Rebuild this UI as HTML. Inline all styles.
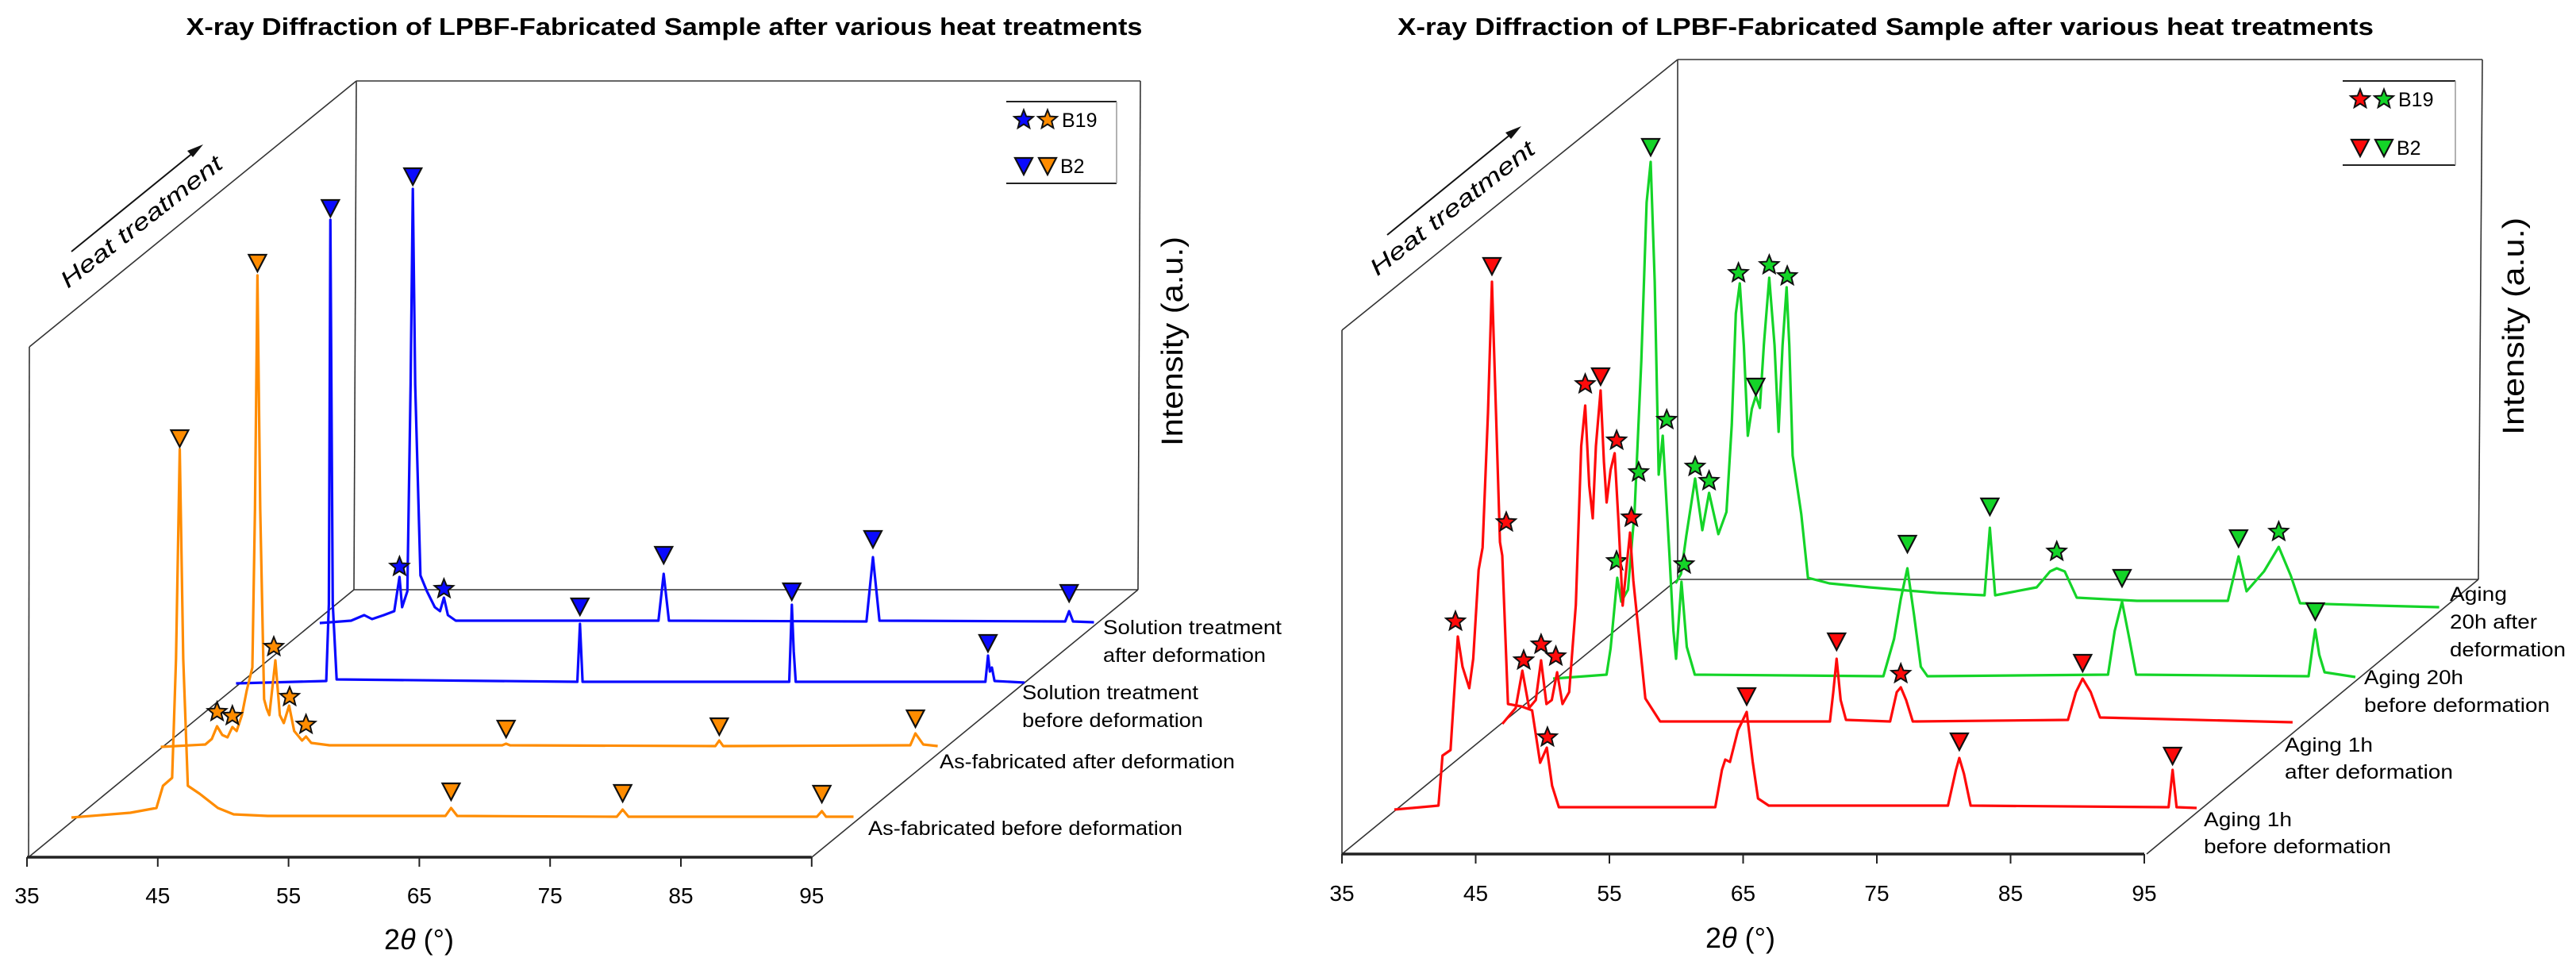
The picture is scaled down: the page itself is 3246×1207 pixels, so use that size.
<!DOCTYPE html>
<html><head><meta charset="utf-8"><title>XRD 3D plots</title>
<style>
html,body{margin:0;padding:0;background:#fff;}
svg{display:block;}
text{font-family:"Liberation Sans",sans-serif;fill:#000;}
</style></head>
<body>
<svg id="chart" xmlns="http://www.w3.org/2000/svg" width="3246" height="1207" viewBox="0 0 3246 1207">
<rect x="0" y="0" width="3246" height="1207" fill="#fff"/>
<g id="frames" fill="none" stroke="#333" stroke-width="1.6">
  <!-- left panel frame -->
  <line x1="37" y1="437" x2="36" y2="1080"/>
  <line x1="37" y1="437" x2="449" y2="102"/>
  <line x1="449" y1="102" x2="1437" y2="102"/>
  <line x1="1437" y1="102" x2="1434" y2="743"/>
  <line x1="449" y1="102" x2="446" y2="743"/>
  <line x1="446" y1="743" x2="1434" y2="743"/>
  <line x1="36" y1="1080" x2="446" y2="743"/>
  <line x1="1023" y1="1080" x2="1434" y2="743"/>
  <!-- right panel frame -->
  <line x1="1691" y1="416" x2="1691" y2="1076"/>
  <line x1="1691" y1="416" x2="2114" y2="75"/>
  <line x1="2114" y1="75" x2="3128" y2="75"/>
  <line x1="3128" y1="75" x2="3123" y2="730"/>
  <line x1="2114" y1="75" x2="2114" y2="730"/>
  <line x1="2114" y1="730" x2="3123" y2="730"/>
  <line x1="1691" y1="1076" x2="2114" y2="730"/>
  <line x1="2705" y1="1076" x2="3123" y2="730"/>
</g>
<g id="plots"></g>
<g id="annot">
  <text x="837" y="44" font-size="31" font-weight="bold" text-anchor="middle" textLength="1205" lengthAdjust="spacingAndGlyphs">X-ray Diffraction of LPBF-Fabricated Sample after various heat treatments</text>
  <text x="2376" y="44" font-size="31" font-weight="bold" text-anchor="middle" textLength="1230" lengthAdjust="spacingAndGlyphs">X-ray Diffraction of LPBF-Fabricated Sample after various heat treatments</text>

  <text x="0" y="0" font-size="38" text-anchor="middle" textLength="264" lengthAdjust="spacingAndGlyphs" transform="translate(1490,430) rotate(-90)">Intensity (a.u.)</text>
  <text x="0" y="0" font-size="38" text-anchor="middle" textLength="274" lengthAdjust="spacingAndGlyphs" transform="translate(3180,411) rotate(-90)">Intensity (a.u.)</text>

  <g>
    <text x="0" y="0" font-size="29" font-style="italic" text-anchor="middle" textLength="250" lengthAdjust="spacingAndGlyphs" transform="translate(184,287) rotate(-38)">Heat treatment</text>
    <line x1="90" y1="317" x2="250" y2="187" stroke="#111" stroke-width="2"/>
    <polygon points="256,182 236,190 243,198" fill="#111"/>
  </g>
  <g>
    <text x="0" y="0" font-size="29" font-style="italic" text-anchor="middle" textLength="255" lengthAdjust="spacingAndGlyphs" transform="translate(1836,270) rotate(-38)">Heat treatment</text>
    <line x1="1748" y1="296" x2="1910" y2="164" stroke="#111" stroke-width="2"/>
    <polygon points="1917,159 1897,167 1904,175" fill="#111"/>
  </g>

  <g font-size="36"><text x="528" y="1196" text-anchor="middle">2<tspan font-style="italic">θ</tspan> (°)</text></g>
  <g font-size="36"><text x="2193" y="1194" text-anchor="middle">2<tspan font-style="italic">θ</tspan> (°)</text></g>

  <g font-size="25">
    <text x="1390" y="799" textLength="225" lengthAdjust="spacingAndGlyphs">Solution treatment</text>
    <text x="1390" y="834" textLength="205" lengthAdjust="spacingAndGlyphs">after deformation</text>
    <text x="1288" y="881" textLength="222" lengthAdjust="spacingAndGlyphs">Solution treatment</text>
    <text x="1288" y="916" textLength="228" lengthAdjust="spacingAndGlyphs">before deformation</text>
    <text x="1184" y="968" textLength="372" lengthAdjust="spacingAndGlyphs">As-fabricated after deformation</text>
    <text x="1094" y="1052" textLength="396" lengthAdjust="spacingAndGlyphs">As-fabricated before deformation</text>
  </g>
  <g font-size="25">
    <text x="3087" y="757" textLength="72" lengthAdjust="spacingAndGlyphs">Aging</text>
    <text x="3087" y="792" textLength="110" lengthAdjust="spacingAndGlyphs">20h after</text>
    <text x="3087" y="827" textLength="146" lengthAdjust="spacingAndGlyphs">deformation</text>
    <text x="2979" y="862" textLength="125" lengthAdjust="spacingAndGlyphs">Aging 20h</text>
    <text x="2979" y="897" textLength="234" lengthAdjust="spacingAndGlyphs">before deformation</text>
    <text x="2879" y="947" textLength="111" lengthAdjust="spacingAndGlyphs">Aging 1h</text>
    <text x="2879" y="981" textLength="212" lengthAdjust="spacingAndGlyphs">after deformation</text>
    <text x="2777" y="1041" textLength="111" lengthAdjust="spacingAndGlyphs">Aging 1h</text>
    <text x="2777" y="1075" textLength="236" lengthAdjust="spacingAndGlyphs">before deformation</text>
  </g>
</g>
<g id="axes"></g>
<g id="legends"></g>
</svg>
<script>
// ---------- tick data ----------
const tickValues = [35, 45, 55, 65, 75, 85, 95];
const tickLabels = ["35", "45", "55", "65", "75", "85", "95"];

// ---------- LEFT PANEL DATA (2θ in degrees, intensity in a.u. of pixels) ----------
const asFabBeforeDeg = [35,39.5,41.5,42.0,42.7,43.0,43.28,43.55,43.9,44.8,46.2,47.4,50,63.6,64.03,64.5,76.7,77.15,77.6,92.0,92.38,92.7,94.8];
const asFabBeforeInt = [0,6,12,40,50,200,464,200,40,30,12,4,2,2,12,2,1,10,1,1,8,1,1];
const asFabBeforeMkDeg = [43.28,64.03,77.15,92.38];
const asFabBeforeMkInt = [478,33,31,30];
const asFabBeforeMkType = ["tri","tri","tri","tri"];

const asFabAfterDeg = [35.1,38.5,39.0,39.4,39.8,40.2,40.57,40.9,41.3,41.67,42.1,42.3,42.49,42.7,43.0,43.2,43.4,43.86,44.2,44.5,44.91,45.3,45.9,46.2,46.6,48,61.2,61.5,61.8,77.5,77.8,78.1,92.4,92.8,93.4,94.5];
const asFabAfterInt = [0,3,10,26,15,12,25,20,40,71,100,300,594,300,60,48,40,109,40,30,52,20,8,13,5,2,2,4,2,1,8,1,2,17,3,1];
const asFabAfterMkDeg = [42.49,43.74,44.95,39.4,40.57,46.2,61.5,77.8,92.8];
const asFabAfterMkInt = [610,126,63,44,39,28,23,26,36];
const asFabAfterMkType = ["tri","star","star","star","star","star","tri","tri","tri"];

const solBeforeDeg = [34.9,41.8,42.0,42.12,42.3,42.6,61.0,61.2,61.4,77.2,77.4,77.55,77.7,92.2,92.4,92.55,92.7,92.9,95.2];
const solBeforeInt = [0,3,100,584,100,5,2,75,2,2,99,40,2,2,35,15,20,3,1];
const solBeforeMkDeg = [42.12,61.2,77.4,92.4];
const solBeforeMkInt = [599,97,116,51];
const solBeforeMkType = ["tri","tri","tri","tri"];

const solAfterDeg = [35.6,38,39,39.6,40.5,41.3,41.7,41.9,42.3,42.55,42.72,42.9,43.3,43.8,44.4,44.8,45.1,45.4,46,61.5,61.9,62.3,77.4,77.9,78.4,92.6,92.9,93.2,94.8];
const solAfterInt = [0,3,10,5,10,15,58,20,40,300,547,300,60,40,20,15,32,10,3,3,62,3,2,83,3,2,15,2,1];
const solAfterMkDeg = [42.72,41.7,45.1,61.9,77.9,92.9];
const solAfterMkInt = [563,71,43,86,106,38];
const solAfterMkType = ["tri","star","star","tri","tri","tri"];

// ---------- RIGHT PANEL DATA ----------
const aging1BeforeDeg = [35,38.3,38.6,39.2,39.75,40.1,40.6,40.9,41.3,41.6,42.0,42.3,42.6,42.9,43.07,43.5,44.5,45.3,45.9,46.4,46.8,47.3,59.0,59.5,59.75,60.1,60.7,61.35,61.8,62.2,63,76.4,77.0,77.25,77.6,78.1,92.9,93.2,93.5,95];
const aging1BeforeInt = [0,5,68,75,218,180,153,190,302,330,500,665,500,337,320,133,130,125,59,78,30,3,3,50,63,60,100,123,60,14,5,5,50,65,45,5,3,50,3,2];
const aging1BeforeMkDeg = [39.57,42.3,43.37,46.45,61.35,77.25,93.2];
const aging1BeforeMkInt = [237,685,362,91,143,86,68];
const aging1BeforeMkType = ["star","tri","star","star","tri","tri","tri"];

const aging1AfterDeg = [35.3,36.3,36.8,37.3,37.8,38.2,38.6,39.0,39.4,39.8,40.3,40.8,41.2,41.5,41.8,42.06,42.3,42.65,42.9,43.1,43.4,43.7,44.0,44.3,44.6,44.85,45.1,45.5,46.0,47.1,59.8,60.05,60.3,60.6,61,64.3,64.8,65.1,65.5,66,77.6,78.2,78.7,79.3,80,94.4];
const aging1AfterInt = [0,20,67,20,30,80,25,30,65,25,40,150,350,401,300,259,350,420,330,279,320,341,250,149,200,241,180,115,32,3,3,40,82,30,5,3,40,46,30,3,5,40,57,40,8,2];
const aging1AfterMkDeg = [36.9,38.2,39.3,41.5,42.65,43.85,44.95,60.3,65.1,78.7];
const aging1AfterMkInt = [80,100,85,428,438,357,260,104,63,77];
const aging1AfterMkType = ["star","star","star","star","tri","star","star","tri","star","tri"];

const aging20BeforeDeg = [35,39.0,39.3,39.8,40.1,40.6,41.1,41.6,42.0,42.3,42.6,42.9,43.2,43.7,44.0,44.2,44.6,45.0,45.6,59.7,60.5,61.0,61.5,62.0,62.5,63,76.5,77.0,77.55,78.1,78.6,91.5,91.8,92.0,92.3,92.7,95];
const aging20BeforeInt = [0,5,38,127,97,112,212,400,600,651,500,257,306,157,60,25,122,40,5,3,50,100,139,80,15,3,5,60,97,50,5,3,40,62,30,8,2];
const aging20BeforeMkDeg = [39.75,41.4,42.3,43.5,44.8,61.5,77.55,92.0];
const aging20BeforeMkInt = [148,260,670,326,144,170,127,85];
const aging20BeforeMkType = ["star","star","tri","star","star","tri","tri","tri"];

const aging20AfterDeg = [35.5,35.9,36.3,36.96,37.5,38.0,38.7,39.3,39.7,40.0,40.3,40.6,40.9,41.2,41.5,41.8,42.1,42.5,42.9,43.2,43.5,43.8,44.0,44.25,44.9,45.4,47,50,55,58.6,59.0,59.4,62.5,63.5,64.0,64.6,65.5,70,76.8,77.6,78.2,79.5,80.6,81.5,82.2,88,92.6];
const aging20AfterInt = [0,12,60,132,67,114,62,90,200,340,378,300,186,220,236,221,300,385,300,191,300,373,300,161,87,7,0,-5,-12,-15,70,-15,-5,15,19,15,-18,-22,-22,34,-10,15,46,10,-25,-28,-30];
const aging20AfterMkDeg = [36.96,38.0,40.2,41.5,42.5,43.85,59.0,64.0,77.6,80.6];
const aging20AfterMkInt = [147,129,391,248,401,387,97,40,57,65];
const aging20AfterMkType = ["star","star","star","tri","star","star","tri","star","tri","star"];

// ---------- layout (pixels) ----------
const NS = "http://www.w3.org/2000/svg";
const plots = document.getElementById("plots");
const axesG = document.getElementById("axes");
const legG = document.getElementById("legends");

const panels = {
  left: { x0: 34, pxPerDeg: 16.48, axisY: 1080 },
  right: { x0: 1691, pxPerDeg: 16.85, axisY: 1076 }
};
function xScale(panel, deg, dx) { return panel.x0 + dx + (deg - 35) * panel.pxPerDeg; }
function yScale(base, v) { return base - v; }

function mk(tag, attrs) {
  const el = document.createElementNS(NS, tag);
  for (const k in attrs) el.setAttribute(k, attrs[k]);
  return el;
}
function triPts(x, y) { return (x-11)+","+(y-10)+" "+(x+11)+","+(y-10)+" "+x+","+(y+11); }
function starPts(x, y, R, r) {
  const p = [];
  for (let i = 0; i < 10; i++) {
    const a = -Math.PI/2 + i*Math.PI/5;
    const rr = i % 2 === 0 ? R : r;
    p.push((x + rr*Math.cos(a)).toFixed(1) + "," + (y + rr*Math.sin(a)).toFixed(1));
  }
  return p.join(" ");
}
function drawMarker(g, type, x, y, color, name) {
  let el;
  if (type === "tri") el = mk("polygon", { points: triPts(x, y), fill: color, stroke: "#111", "stroke-width": 2.2, "stroke-linejoin": "miter" });
  else el = mk("polygon", { points: starPts(x, y, 12.5, 5.5), fill: color, stroke: "#111", "stroke-width": 2, "stroke-linejoin": "miter" });
  
  
  g.appendChild(el);
}
function drawSeries(panel, dx, base, degs, ints, mDeg, mInt, mType, color, name) {
  const g = mk("g", {});
  
  
  let d = "";
  for (let i = 0; i < degs.length; i++) {
    const x = xScale(panel, degs[i], dx), y = yScale(base, ints[i]);
    d += (i ? "L" : "M") + x.toFixed(1) + "," + y.toFixed(1);
  }
  const path = mk("path", { d: d, fill: "none", stroke: color, "stroke-width": 3.2, "stroke-linejoin": "round" });
  
  
  g.appendChild(path);
  for (let i = 0; i < mDeg.length; i++) {
    drawMarker(g, mType[i], xScale(panel, mDeg[i], dx), yScale(base, mInt[i]), color, name + '-marker-' + mType[i]);
  }
  plots.appendChild(g);
}

const orange = "#ff8c00", blue = "#0a0aff", red = "#ff0a0a", green = "#14d428";
// back to front
drawSeries(panels.left, 359, 785, solAfterDeg, solAfterInt, solAfterMkDeg, solAfterMkInt, solAfterMkType, blue, "series-solution-after");
drawSeries(panels.left, 265, 861, solBeforeDeg, solBeforeInt, solBeforeMkDeg, solBeforeMkInt, solBeforeMkType, blue, "series-solution-before");
drawSeries(panels.left, 167, 941, asFabAfterDeg, asFabAfterInt, asFabAfterMkDeg, asFabAfterMkInt, asFabAfterMkType, orange, "series-asfab-after");
drawSeries(panels.left, 56, 1030, asFabBeforeDeg, asFabBeforeInt, asFabBeforeMkDeg, asFabBeforeMkInt, asFabBeforeMkType, orange, "series-asfab-before");

drawSeries(panels.right, 412, 735, aging20AfterDeg, aging20AfterInt, aging20AfterMkDeg, aging20AfterMkInt, aging20AfterMkType, green, "series-aging20-after");
drawSeries(panels.right, 266, 855, aging20BeforeDeg, aging20BeforeInt, aging20BeforeMkDeg, aging20BeforeMkInt, aging20BeforeMkType, green, "series-aging20-before");
drawSeries(panels.right, 197, 912, aging1AfterDeg, aging1AfterInt, aging1AfterMkDeg, aging1AfterMkInt, aging1AfterMkType, red, "series-aging1-after");
drawSeries(panels.right, 66, 1020, aging1BeforeDeg, aging1BeforeInt, aging1BeforeMkDeg, aging1BeforeMkInt, aging1BeforeMkType, red, "series-aging1-before");

// axes
function drawAxis(panel, side, labelY) {
  const g = mk("g", {});
  
  
  const xa = xScale(panel, tickValues[0], 0), xb = xScale(panel, tickValues[tickValues.length-1], 0);
  const ln = mk("line", { x1: xa, y1: panel.axisY, x2: xb, y2: panel.axisY, stroke: "#222", "stroke-width": 3.5 });
  
  
  g.appendChild(ln);
  for (let i = 0; i < tickValues.length; i++) {
    const x = xScale(panel, tickValues[i], 0);
    const t = mk("line", { x1: x, y1: panel.axisY, x2: x, y2: panel.axisY + 12, stroke: "#222", "stroke-width": 2 });
    
    
    g.appendChild(t);
    const tx = mk("text", { x: x, y: labelY, "font-size": 28, "text-anchor": "middle" });
    tx.textContent = tickLabels[i];
    
    
    g.appendChild(tx);
  }
  axesG.appendChild(g);
}
drawAxis(panels.left, "left", 1138);
drawAxis(panels.right, "right", 1135);

// legends
function drawLegend(side, x0, y0, x1, y1, c1, c2) {
  const g = mk("g", {});
  
  
  g.appendChild(mk("line", { x1: x0, y1: y0, x2: x1, y2: y0, stroke: "#222", "stroke-width": 2 }));
  g.appendChild(mk("line", { x1: x0, y1: y1, x2: x1, y2: y1, stroke: "#222", "stroke-width": 2 }));
  g.appendChild(mk("line", { x1: x1, y1: y0, x2: x1, y2: y1, stroke: "#999", "stroke-width": 1.5 }));
  const ya = y0 + 23, yb = y1 - 22;
  drawMarker(g, "star", x0 + 22, ya, c1, side + '-legend-b19-marker');
  drawMarker(g, "star", x0 + 52, ya, c2, side + '-legend-b19-marker');
  drawMarker(g, "tri", x0 + 22, yb, c1, side + '-legend-b2-marker');
  drawMarker(g, "tri", x0 + 52, yb, c2, side + '-legend-b2-marker');
  const t1 = mk("text", { x: x0 + 70, y: ya + 9, "font-size": 25 });
  t1.textContent = "B19";
  
  
  const t2 = mk("text", { x: x0 + 68, y: yb + 9, "font-size": 25 });
  t2.textContent = "B2";
  
  
  g.appendChild(t1); g.appendChild(t2);
  legG.appendChild(g);
}
drawLegend("left", 1268, 128, 1407, 231, blue, orange);
drawLegend("right", 2952, 102, 3094, 208, red, green);
</script>
</body></html>
